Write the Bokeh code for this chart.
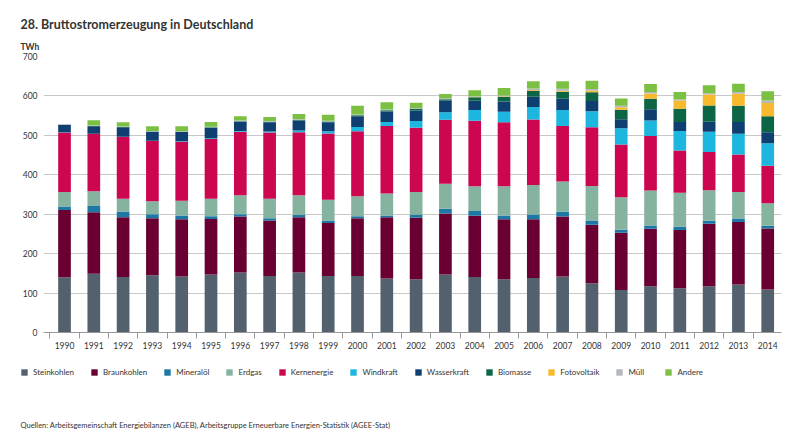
from bokeh.plotting import figure
from bokeh.models import (ColumnDataSource, Legend, LegendItem, Title, FixedTicker, Range1d, Label)
from bokeh.layouts import column
from bokeh.embed import file_html
from bokeh.resources import INLINE

years = list(range(1990, 2015))
steinkohlen = [140, 149, 141, 145, 142, 147, 152, 143, 152, 143, 143, 137, 135, 147, 141, 135, 138, 142, 125, 108, 117, 112, 117, 122, 109]
braunkohlen = [171, 156, 151, 145, 145, 141, 142, 141, 140, 135, 147, 155, 156, 155, 155, 152, 149, 152, 148, 145, 146, 148, 159, 158, 155]
mineraloel = [8.5, 16, 15, 10, 10, 7, 6, 6, 6, 6, 5, 5, 8.5, 12, 12, 10, 12, 12, 11, 7.6, 8.4, 8.4, 7.6, 9, 6.7]
erdgas = [37, 37, 32, 33, 37, 44, 48, 49, 50, 53, 50.5, 55.6, 57, 63, 63, 74, 75, 77, 87.5, 82.5, 89, 86, 77.4, 67.3, 57.2]
kernenergie = [151, 146, 157, 153, 150, 152, 161, 168, 160, 168, 165, 171, 162.5, 162.5, 166, 162, 166, 141, 149, 134, 138, 107, 97, 95, 95]
windkraft = [0.1, 0.2, 0.3, 0.6, 0.9, 1.5, 2, 3, 4.5, 5.5, 11, 10, 17.7, 19.4, 27, 27, 32, 40, 40.4, 41, 39, 49.6, 51.3, 53, 57.2]
wasserkraft = [19, 19, 24, 22.5, 23.5, 27, 24, 23.5, 25, 23, 27, 27, 26.5, 29, 24, 26, 26, 28.6, 26.5, 22.5, 28.5, 22.7, 25, 29.5, 28]
biomasse = [0.5, 0.5, 0.6, 0.7, 0.8, 0.9, 1, 1.2, 1.6, 1.8, 2.5, 3, 4, 3.5, 8.4, 11.8, 15, 17.7, 22, 24.4, 27, 33.7, 41.2, 41.5, 40.4]
fotovoltaik = [0, 0, 0, 0, 0, 0, 0, 0, 0, 0, 0.06, 0.1, 0.2, 0.3, 0.6, 1.3, 2.2, 3.1, 4.4, 6.6, 13, 21, 28, 30.3, 33.7]
muell = [1.2, 1.3, 1.4, 1.5, 1.5, 1.5, 1.5, 1.6, 1.6, 1.7, 1.8, 2, 2, 2.2, 2.2, 2.1, 3.5, 5, 4, 3.4, 4, 2.6, 3.5, 4.2, 6.5]
andere = [0, 13, 11, 11.5, 12.5, 12, 11, 10.5, 13.5, 15, 22, 18.3, 13.2, 11, 15.3, 19.2, 18.3, 18.6, 21, 18.5, 20.5, 19, 20, 21, 23]

series_names = ["Steinkohlen", "Braunkohlen", "Mineralöl", "Erdgas", "Kernenergie",
                "Windkraft", "Wasserkraft", "Biomasse", "Fotovoltaik", "Müll", "Andere"]
series_values = [steinkohlen, braunkohlen, mineraloel, erdgas, kernenergie,
                 windkraft, wasserkraft, biomasse, fotovoltaik, muell, andere]
colors = ["#52616d", "#6a0032", "#1d78a6", "#85b3a0", "#cd0650",
          "#1db6df", "#0f3e70", "#0c6646", "#f7b92d", "#b5b9be", "#7bc043"]

keys = ["s%d" % i for i in range(len(series_names))]
data = {"year": years}
for k, v in zip(keys, series_values):
    data[k] = v
source = ColumnDataSource(data)

FONT = "Lato"
TXT = "#333333"

# ---------------- main chart ----------------
p = figure(width=800, height=362, output_backend="svg", toolbar_location=None,
           x_range=Range1d(1989.283, 2014.47), y_range=Range1d(0, 700),
           min_border_left=43, min_border_right=19, min_border_top=56, min_border_bottom=30)
p.frame_align = False
p.outline_line_color = None
p.background_fill_color = "white"
p.border_fill_color = "white"

p.title.text = "28. Bruttostromerzeugung in Deutschland"
p.title.text_font = FONT
p.title.text_font_style = "bold"
p.title.text_font_size = "12.5px"
p.title.text_color = TXT
p.title.align = "left"
p.title.offset = -23
p.title.standoff = 6

p.add_layout(Title(text="TWh", align="left", offset=-23, text_font=FONT,
                   text_font_style="bold", text_font_size="8.5px",
                   text_color=TXT, standoff=10), "above")

p.vbar_stack(keys, x="year", width=0.433, color=colors, source=source, line_color=None)

p.xaxis.ticker = FixedTicker(ticks=years, minor_ticks=[y - 0.5 for y in years] + [years[-1] + 0.5])
p.xaxis.major_tick_line_color = None
p.xaxis.major_tick_out = 0
p.xaxis.major_tick_in = 0
p.xaxis.minor_tick_line_color = "#999999"
p.xaxis.minor_tick_out = 6
p.xaxis.minor_tick_in = 0
p.xaxis.axis_line_color = "#999999"
p.xaxis.major_label_text_font = FONT
p.xaxis.major_label_text_font_size = "8.5px"
p.xaxis.major_label_text_color = TXT
p.xaxis.major_label_standoff = 3

p.yaxis.ticker = FixedTicker(ticks=[0, 100, 200, 300, 400, 500, 600, 700])
p.yaxis.axis_line_color = None
p.yaxis.major_tick_line_color = None
p.yaxis.minor_tick_line_color = None
p.yaxis.major_tick_out = 0
p.yaxis.major_label_text_font = FONT
p.yaxis.major_label_text_font_size = "8.5px"
p.yaxis.major_label_text_color = TXT
p.yaxis.major_label_standoff = 6

p.xgrid.grid_line_color = None
p.ygrid.grid_line_color = "#c8c8c8"
p.ygrid.grid_line_width = 1

# ---------------- footer: legend + sources ----------------
f = figure(width=800, height=84, output_backend="svg", toolbar_location=None,
           x_range=Range1d(0, 800), y_range=Range1d(0, 84),
           x_axis_location=None, y_axis_location=None,
           min_border_left=0, min_border_right=0, min_border_top=0, min_border_bottom=0)
f.frame_align = False
f.outline_line_color = None
f.grid.visible = False
f.background_fill_color = "white"
f.border_fill_color = "white"

nan = float("nan")
empty = ColumnDataSource({"x": [nan], "top": [nan]})
dummies = [f.vbar(x="x", top="top", width=1, color=c, line_color=None, source=empty)
           for c in colors]
items = [LegendItem(label=n, renderers=[r], index=0) for n, r in zip(series_names, dummies)]
legend = Legend(items=items, orientation="horizontal", location=(20, 69),
                padding=0, margin=0, spacing=16, label_standoff=5,
                glyph_width=8, glyph_height=8, label_height=8,
                label_text_font=FONT, label_text_font_size="8px",
                label_text_color=TXT, border_line_alpha=0,
                background_fill_alpha=0)
f.add_layout(legend, "center")

f.add_layout(Label(x=20, y=21, text="Quellen: Arbeitsgemeinschaft Energiebilanzen (AGEB), Arbeitsgruppe Erneuerbare Energien-Statistik (AGEE-Stat)",
                   text_font=FONT, text_font_size="7.5px", text_color=TXT,
                   text_baseline="middle"))

layout = column(p, f, spacing=0)
open("out.html", "w").write(file_html(layout, INLINE))
